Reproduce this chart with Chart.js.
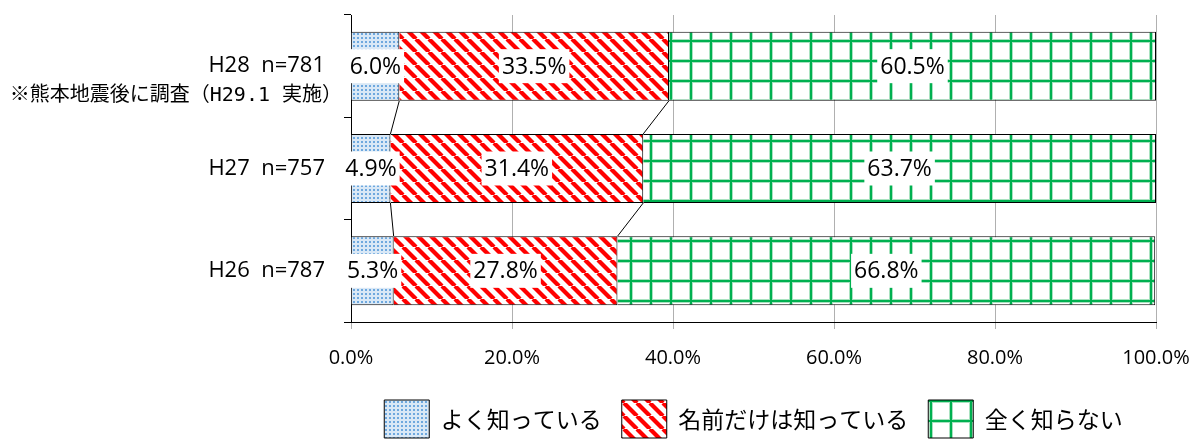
<!DOCTYPE html>
<html lang="ja">
<head>
<meta charset="utf-8">
<script src="https://cdn.jsdelivr.net/npm/chart.js@4/dist/chart.umd.min.js"></script>
<style>
  html, body { margin: 0; padding: 0; background: #fff; }
</style>
</head>
<body>
<canvas id="chart" width="1194" height="439"></canvas>
<script>
// ----------------------------
// DATA
// ----------------------------
const surveyYears = ["H28  n=781", "H27  n=757", "H26  n=787"];
const surveyNote = "※熊本地震後に調査（H29.1 実施）";
const seriesNames = ["よく知っている", "名前だけは知っている", "全く知らない"];
const knowWell = [6.0, 4.9, 5.3];
const knowName = [33.5, 31.4, 27.8];
const dontKnow = [60.5, 63.7, 66.8];
const xTicks = [0, 20, 40, 60, 80, 100];

// ----------------------------
// FONTS / PATTERNS
// ----------------------------
const latin = "'Open Sans', 'Noto Sans CJK JP', sans-serif";
const jp = "'Noto Sans CJK JP', sans-serif";

const canvas = document.getElementById("chart");
const mainCtx = canvas.getContext("2d");

function makePattern(size, draw) {
  const c = document.createElement("canvas");
  c.width = size;
  c.height = size;
  draw(c.getContext("2d"), size);
  return mainCtx.createPattern(c, "repeat");
}

// small blue dots
const dotFill = makePattern(4, (g, s) => {
  g.fillStyle = "#d9e8f6";
  g.fillRect(0, 0, s, s);
  g.fillStyle = "#6ea8de";
  g.fillRect(1, 1, 2, 2);
});

// red diagonal stripes
const stripeFill = makePattern(13, (g, s) => {
  g.fillStyle = "#fff";
  g.fillRect(0, 0, s, s);
  g.strokeStyle = "#ff0000";
  g.lineWidth = 4.2;
  [-s, 0, s].forEach((o) => {
    g.beginPath();
    g.moveTo(o, 0);
    g.lineTo(o + s, s);
    g.stroke();
  });
});

// green grid
const gridFill = makePattern(20, (g, s) => {
  g.fillStyle = "#fff";
  g.fillRect(0, 0, s, s);
  g.fillStyle = "#a9e2c0";
  g.fillRect(9, 0, 4, s);
  g.fillRect(0, 0, s, 3);
  g.fillRect(0, s - 1, s, 1);
  g.fillStyle = "#00b050";
  g.fillRect(10, 0, 2, s);
  g.fillRect(0, 0, s, 2);
});

// ----------------------------
// PLUGINS
// ----------------------------
const seriesLines = {
  id: "seriesLines",
  beforeDatasetsDraw(chart) {
    const ctx = chart.ctx;
    ctx.save();
    ctx.strokeStyle = "#000";
    ctx.lineWidth = 1;
    for (let d = 0; d < chart.data.datasets.length - 1; d++) {
      const bars = chart.getDatasetMeta(d).data;
      for (let j = 0; j < bars.length - 1; j++) {
        const a = bars[j], b = bars[j + 1];
        ctx.beginPath();
        ctx.moveTo(a.x, a.y + a.height / 2);
        ctx.lineTo(b.x, b.y - b.height / 2);
        ctx.stroke();
      }
    }
    ctx.restore();
  },
};

const segmentLabels = {
  id: "segmentLabels",
  afterDatasetsDraw(chart) {
    const ctx = chart.ctx;
    ctx.save();
    ctx.font = "23px " + latin;
    ctx.textAlign = "center";
    ctx.textBaseline = "middle";
    chart.data.datasets.forEach((ds, i) => {
      chart.getDatasetMeta(i).data.forEach((bar, j) => {
        const text = ds.data[j].toFixed(1) + "%";
        const x = (bar.x + bar.base) / 2;
        const w = ctx.measureText(text).width + 6;
        ctx.fillStyle = "#fff";
        ctx.fillRect(x - w / 2, bar.y - 17, w, 34);
        ctx.fillStyle = "#000";
        ctx.fillText(text, x, bar.y + 1);
      });
    });
    ctx.restore();
  },
};

const noteLabel = {
  id: "noteLabel",
  afterDraw(chart) {
    const ctx = chart.ctx;
    const y = chart.scales.y.getPixelForValue(0);
    ctx.save();
    ctx.font = "20px 'DejaVu Sans Mono', 'Noto Sans CJK JP', sans-serif";
    ctx.textAlign = "right";
    ctx.textBaseline = "middle";
    ctx.fillStyle = "#000";
    ctx.fillText(surveyNote, 342, y + 30);
    ctx.restore();
  },
};

// ----------------------------
// CHART
// ----------------------------
new Chart(canvas, {
  type: "bar",
  data: {
    labels: surveyYears,
    datasets: [
      { label: seriesNames[0], data: knowWell, backgroundColor: dotFill },
      { label: seriesNames[1], data: knowName, backgroundColor: stripeFill },
      { label: seriesNames[2], data: dontKnow, backgroundColor: gridFill },
    ].map((ds) => ({
      ...ds,
      borderColor: "#000",
      borderWidth: 1,
      barPercentage: 0.675,
      categoryPercentage: 1,
    })),
  },
  options: {
    indexAxis: "y",
    responsive: false,
    animation: false,
    layout: { padding: { top: 15, right: 38, bottom: -9, left: 0 } },
    plugins: {
      tooltip: { enabled: false },
      legend: {
        position: "bottom",
        fullSize: false,
        labels: {
          boxWidth: 45,
          boxHeight: 38,
          padding: 20,
          color: "#000",
          font: { family: jp, size: 23 },
        },
      },
    },
    scales: {
      x: {
        stacked: true,
        min: 0,
        max: 100,
        afterBuildTicks(scale) {
          scale.ticks = xTicks.map((v) => ({ value: v }));
        },
        afterFit(scale) {
          scale.height = 58;
          scale.paddingLeft = 0;
          scale.paddingRight = 0;
        },
        grid: { color: "#b0b0b0", tickLength: 7 },
        border: { color: "#000" },
        ticks: {
          callback: (v) => v.toFixed(1) + "%",
          color: "#000",
          font: { family: latin, size: 20 },
          padding: 17,
          maxRotation: 0,
        },
      },
      y: {
        stacked: true,
        afterFit(scale) {
          scale.width = 351;
          scale.paddingTop = 0;
          scale.paddingBottom = 0;
        },
        grid: { offset: true, drawOnChartArea: false, color: "#000", tickLength: 7 },
        border: { color: "#000" },
        ticks: {
          color: "#000",
          font: { family: latin, size: 22 },
          padding: 19,
        },
      },
    },
  },
  plugins: [seriesLines, segmentLabels, noteLabel],
});
</script>
</body>
</html>
